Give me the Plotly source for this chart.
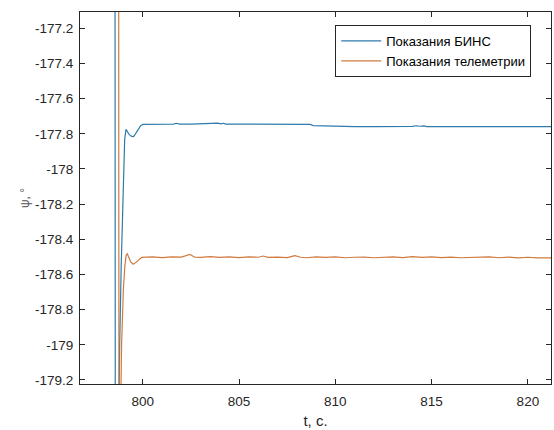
import plotly.graph_objects as go

# --- data ---
t_bins = [796.5, 798.55, 798.58, 798.70, 798.80, 798.88, 798.95, 799.00, 799.06, 799.13,
          799.20, 799.30, 799.42, 799.52, 799.62, 799.75, 799.88, 800.00, 800.50, 801.00,
          801.60, 801.76, 801.90, 802.50, 803.00, 803.50, 803.60, 803.75, 803.90, 804.05,
          804.20, 804.30, 805.00, 806.00, 807.00, 808.00, 808.70, 808.85, 809.20, 809.80,
          810.30, 811.00, 812.00, 813.00, 813.70, 813.85, 814.00, 814.20, 814.40, 814.60,
          814.75, 815.50, 816.50, 817.50, 818.50, 819.50, 820.50, 821.30]
psi_bins = [-175.0, -175.0, -181.0, -179.8, -179.0, -178.55, -178.2, -177.95, -177.83, -177.775,
            -177.785, -177.805, -177.815, -177.816, -177.80, -177.775, -177.755, -177.746, -177.745, -177.745,
            -177.745, -177.740, -177.745, -177.745, -177.744, -177.744, -177.740, -177.742, -177.739, -177.743,
            -177.740, -177.745, -177.745, -177.745, -177.744, -177.745, -177.746, -177.753, -177.754, -177.756,
            -177.759, -177.759, -177.759, -177.759, -177.759, -177.755, -177.758, -177.754, -177.757, -177.755,
            -177.759, -177.759, -177.759, -177.759, -177.760, -177.759, -177.759, -177.759]

t_tel = [796.5, 798.74, 798.77, 798.82, 798.90, 798.99, 799.07, 799.14, 799.20, 799.28,
         799.38, 799.50, 799.60, 799.70, 799.82, 799.95,
         800.5, 801.0, 801.5, 802.0, 802.45, 802.7, 803.0, 803.5, 804.0, 804.5,
         805.0, 805.5, 806.0, 806.25, 806.5, 807.0, 807.5, 807.9, 808.2, 808.5,
         809.0, 809.5, 810.0, 810.5, 811.0, 811.5, 812.0, 812.5, 813.0, 813.5,
         814.0, 814.5, 815.0, 815.5, 816.0, 816.5, 817.0, 817.5, 818.0, 818.5,
         819.0, 819.5, 820.0, 820.5, 821.0, 821.3]
psi_tel = [-175.0, -175.0, -181.0, -179.6, -179.0, -178.69, -178.55, -178.49, -178.483, -178.50,
           -178.53, -178.542, -178.535, -178.527, -178.514, -178.503,
           -178.500, -178.504, -178.500, -178.501, -178.486, -178.502, -178.503, -178.499, -178.503, -178.500,
           -178.504, -178.500, -178.502, -178.495, -178.503, -178.501, -178.504, -178.493, -178.502, -178.505,
           -178.500, -178.503, -178.500, -178.505, -178.502, -178.501, -178.505, -178.501, -178.500, -178.504,
           -178.498, -178.503, -178.500, -178.504, -178.501, -178.505, -178.502, -178.503, -178.500, -178.505,
           -178.501, -178.506, -178.502, -178.506, -178.503, -178.505]

x_ticks = [800, 805, 810, 815, 820]
y_ticks = [-177.2, -177.4, -177.6, -177.8, -178.0, -178.2, -178.4, -178.6, -178.8, -179.0, -179.2]
y_ticktext = ["-177.2", "-177.4", "-177.6", "-177.8", "-178", "-178.2", "-178.4", "-178.6", "-178.8", "-179", "-179.2"]

names = ["Показания БИНС", "Показания телеметрии"]
colors = ["#2f7bab", "#cf7b3e"]

FONT = "Liberation Sans, Arial, sans-serif"
AX = "#262626"

fig = go.Figure()
fig.add_trace(go.Scatter(x=t_bins, y=psi_bins, mode="lines", name=names[0],
                         line=dict(color=colors[0], width=1.2)))
fig.add_trace(go.Scatter(x=t_tel, y=psi_tel, mode="lines", name=names[1],
                         line=dict(color=colors[1], width=1.2)))

axis_common = dict(showgrid=False, zeroline=False, showline=True, linecolor=AX, linewidth=1,
                   mirror="ticks", ticks="inside", ticklen=5, tickcolor=AX,
                   tickfont=dict(family=FONT, size=13.5, color=AX))

fig.update_xaxes(range=[796.74, 821.2], tickvals=x_ticks, ticklabelstandoff=5,
                 title=dict(text="t, c.", font=dict(family=FONT, size=15, color=AX), standoff=7),
                 **axis_common)
fig.update_yaxes(range=[-179.223, -177.107], tickvals=y_ticks, ticktext=y_ticktext,
                 ticklabelstandoff=3,
                 title=dict(text="ψ, °", font=dict(family=FONT, size=12, color="#555555"), standoff=2),
                 **axis_common)

fig.update_layout(
    width=554, height=430,
    margin=dict(l=80, r=3, t=12, b=46),
    paper_bgcolor="white", plot_bgcolor="white",
    showlegend=True,
    legend=dict(x=0.958, y=0.965, xanchor="right", yanchor="top",
                bgcolor="white", bordercolor=AX, borderwidth=1,
                font=dict(family=FONT, size=13, color="#000000"),
                tracegroupgap=0, itemwidth=40),
)

fig.write_html("out.html")
